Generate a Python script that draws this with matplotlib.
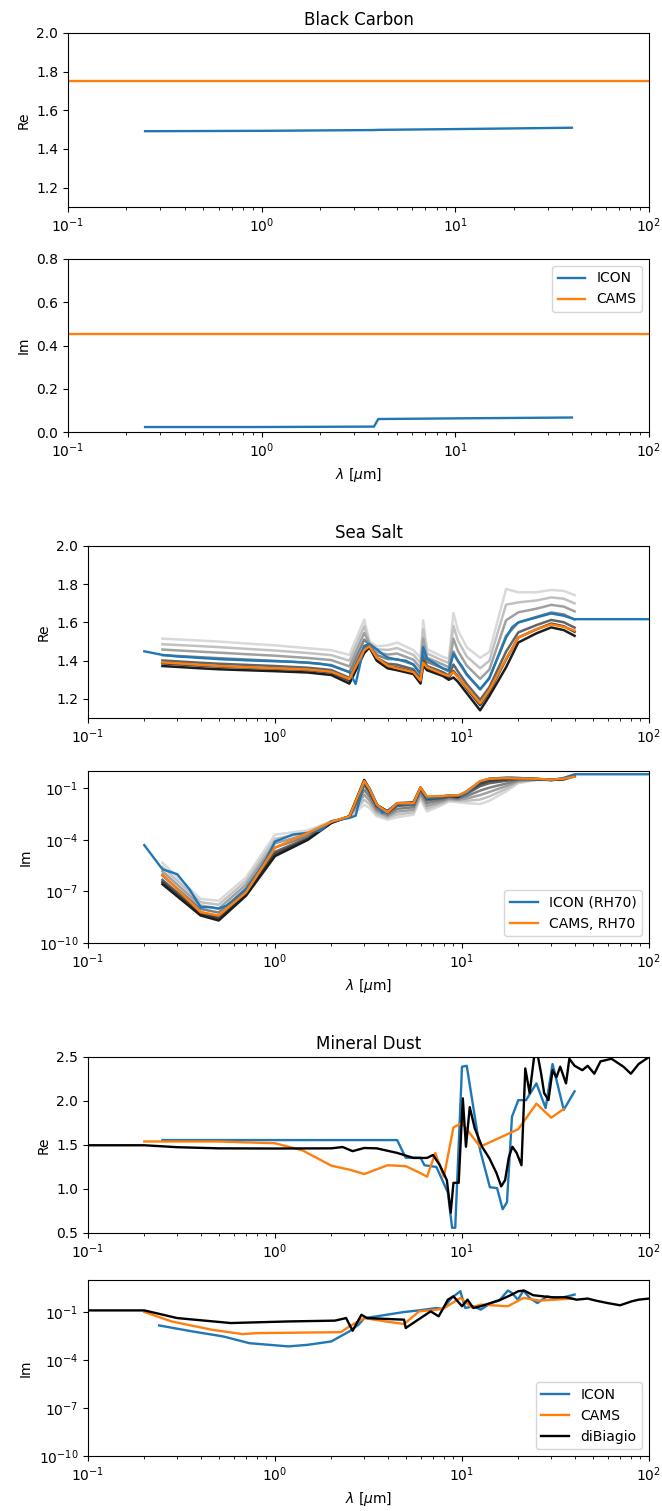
import numpy as np
import matplotlib
matplotlib.use("Agg")
import matplotlib.pyplot as plt

plt.rcParams['lines.linewidth'] = 1.7

# ---------------- black carbon
bc_icon_wl = [0.25, 1.0, 3.8, 4.0, 10.0, 40.0]
bc_icon_re = [1.492, 1.494, 1.498, 1.499, 1.503, 1.510]
bc_icon_im = [0.023, 0.023, 0.025, 0.060, 0.063, 0.067]
bc_cams_wl = [0.1, 100.0]
bc_cams_re = [1.75, 1.75]
bc_cams_im = [0.455, 0.455]

# ---------------- sea salt
# CAMS grid, gray lines = different RH (light = dry, dark = wet)
ss_wl = [0.25, 0.4, 0.5, 0.7, 1.0, 1.5, 2.0, 2.5, 3.0, 3.2, 3.5, 4.0, 4.5, 5.5, 6.0,
         6.2, 6.5, 7.9, 8.5, 9.0, 9.5, 10.6, 12.5, 14.0, 17.2, 20.0, 25.0, 30.0, 35.0, 40.0]
ss_rh_re = [
    [1.515, 1.505, 1.500, 1.490, 1.480, 1.465, 1.455, 1.430, 1.615, 1.500, 1.475, 1.480, 1.495, 1.455, 1.415,
     1.610, 1.460, 1.420, 1.410, 1.650, 1.560, 1.470, 1.415, 1.445, 1.775, 1.758, 1.758, 1.770, 1.765, 1.743],
    [1.486, 1.476, 1.471, 1.462, 1.453, 1.440, 1.429, 1.400, 1.580, 1.494, 1.460, 1.456, 1.466, 1.430, 1.388,
     1.563, 1.438, 1.400, 1.388, 1.582, 1.506, 1.422, 1.360, 1.399, 1.693, 1.705, 1.715, 1.731, 1.724, 1.700],
    [1.458, 1.447, 1.442, 1.434, 1.426, 1.414, 1.403, 1.370, 1.545, 1.488, 1.445, 1.432, 1.437, 1.405, 1.361,
     1.516, 1.416, 1.380, 1.366, 1.515, 1.452, 1.374, 1.305, 1.353, 1.611, 1.653, 1.672, 1.692, 1.683, 1.658],
    [1.429, 1.418, 1.413, 1.406, 1.399, 1.389, 1.377, 1.340, 1.510, 1.482, 1.430, 1.408, 1.408, 1.380, 1.334,
     1.469, 1.394, 1.360, 1.344, 1.447, 1.398, 1.326, 1.250, 1.307, 1.529, 1.600, 1.629, 1.652, 1.642, 1.615],
    [1.401, 1.389, 1.384, 1.378, 1.372, 1.363, 1.351, 1.310, 1.475, 1.476, 1.415, 1.384, 1.379, 1.355, 1.307,
     1.422, 1.372, 1.340, 1.322, 1.380, 1.344, 1.278, 1.195, 1.261, 1.447, 1.548, 1.586, 1.613, 1.601, 1.573],
    [1.386, 1.374, 1.369, 1.364, 1.358, 1.351, 1.338, 1.295, 1.457, 1.473, 1.407, 1.372, 1.364, 1.342, 1.293,
     1.398, 1.361, 1.330, 1.311, 1.346, 1.317, 1.254, 1.167, 1.238, 1.406, 1.521, 1.564, 1.594, 1.580, 1.551],
    [1.372, 1.360, 1.355, 1.350, 1.345, 1.338, 1.325, 1.280, 1.440, 1.470, 1.400, 1.360, 1.350, 1.330, 1.280,
     1.375, 1.350, 1.320, 1.300, 1.312, 1.290, 1.230, 1.140, 1.215, 1.365, 1.495, 1.543, 1.574, 1.560, 1.530],
]
# imaginary part, log10
ss_rh_im_log = [
    [-5.33, -7.44, -7.54, -6.19, -3.70, -3.45, -2.92, -2.69, -1.96, -2.15, -2.63, -2.83, -2.69, -2.54, -1.58,
     -1.96, -2.35, -1.96, -1.77, -1.79, -1.81, -1.87, -1.92, -1.73, -1.19, -0.71, -0.52, -0.52, -0.50, -0.33],
    [-5.58, -7.63, -7.77, -6.40, -3.95, -3.56, -2.94, -2.68, -1.67, -1.93, -2.50, -2.73, -2.53, -2.40, -1.46,
     -1.81, -2.19, -1.86, -1.70, -1.72, -1.74, -1.73, -1.66, -1.48, -1.04, -0.65, -0.51, -0.52, -0.49, -0.32],
    [-5.83, -7.82, -8.00, -6.61, -4.20, -3.67, -2.96, -2.67, -1.38, -1.71, -2.36, -2.64, -2.36, -2.26, -1.33,
     -1.65, -2.03, -1.77, -1.63, -1.65, -1.68, -1.60, -1.40, -1.22, -0.88, -0.59, -0.50, -0.52, -0.48, -0.31],
    [-6.08, -8.02, -8.23, -6.83, -4.45, -3.78, -2.98, -2.65, -1.10, -1.48, -2.23, -2.54, -2.20, -2.11, -1.21,
     -1.50, -1.86, -1.67, -1.56, -1.59, -1.61, -1.46, -1.14, -0.97, -0.73, -0.54, -0.48, -0.52, -0.48, -0.29],
    [-6.33, -8.21, -8.46, -7.04, -4.70, -3.89, -3.00, -2.64, -0.81, -1.26, -2.09, -2.45, -2.03, -1.97, -1.08,
     -1.34, -1.70, -1.58, -1.49, -1.52, -1.55, -1.33, -0.88, -0.71, -0.57, -0.48, -0.47, -0.52, -0.47, -0.28],
    [-6.46, -8.30, -8.58, -7.14, -4.83, -3.95, -3.01, -2.64, -0.66, -1.15, -2.03, -2.40, -1.95, -1.90, -1.02,
     -1.27, -1.62, -1.53, -1.45, -1.48, -1.51, -1.26, -0.75, -0.59, -0.50, -0.45, -0.47, -0.52, -0.46, -0.28],
    [-6.58, -8.40, -8.69, -7.25, -4.95, -4.00, -3.02, -2.63, -0.52, -1.04, -1.96, -2.35, -1.87, -1.83, -0.96,
     -1.19, -1.54, -1.48, -1.42, -1.45, -1.48, -1.19, -0.62, -0.46, -0.42, -0.42, -0.46, -0.52, -0.46, -0.27],
]
ss_cams_re = [1.391, 1.378, 1.372, 1.366, 1.360, 1.354, 1.342, 1.304, 1.455, 1.475, 1.415, 1.374, 1.360, 1.340, 1.296,
              1.390, 1.365, 1.330, 1.320, 1.340, 1.313, 1.260, 1.177, 1.245, 1.410, 1.520, 1.565, 1.590, 1.577, 1.557]
ss_cams_im_log = [-6.00, -8.21, -8.40, -7.06, -4.46, -3.60, -2.96, -2.63, -0.58, -1.05, -1.96, -2.40, -1.87, -1.87, -0.96,
                  -1.20, -1.48, -1.45, -1.42, -1.42, -1.42, -1.19, -0.58, -0.45, -0.42, -0.44, -0.45, -0.50, -0.45, -0.33]

ss_icon_wl = [0.2, 0.25, 0.3, 0.35, 0.4, 0.45, 0.5, 0.55, 0.6, 0.7, 0.8, 0.9, 1.0, 1.25, 1.5, 1.75, 2.0, 2.5, 2.7,
              3.0, 3.2, 3.5, 3.75, 4.0, 4.5, 5.0, 5.5, 6.0, 6.2, 6.5, 7.9, 8.5, 9.0, 9.5, 10.0, 10.6, 12.5, 14.0,
              17.2, 18.5, 20.0, 25.0, 30.0, 35.0, 40.0, 100.0]
ss_icon_re = [1.449, 1.430, 1.422, 1.418, 1.414, 1.411, 1.408, 1.406, 1.405, 1.402, 1.400, 1.398, 1.397, 1.394, 1.390,
              1.384, 1.374, 1.340, 1.278, 1.478, 1.487, 1.460, 1.435, 1.417, 1.405, 1.400, 1.380, 1.330, 1.470, 1.410,
              1.360, 1.350, 1.435, 1.400, 1.370, 1.330, 1.250, 1.310, 1.520, 1.574, 1.600, 1.626, 1.647, 1.635, 1.617, 1.617]
ss_icon_im_log = [-4.31, -5.71, -6.00, -6.90, -7.92, -7.92, -8.00, -7.83, -7.54, -6.87, -6.00, -5.10, -4.10, -3.69, -3.60,
                  -3.45, -2.92, -2.73, -2.60, -0.62, -1.00, -1.90, -2.44, -2.30, -1.92, -1.92, -1.92, -0.96, -1.20, -1.58,
                  -1.50, -1.42, -1.42, -1.42, -1.42, -1.29, -0.62, -0.45, -0.38, -0.38, -0.40, -0.46, -0.52, -0.40, -0.19, -0.19]

# ---------------- mineral dust
md_icon_re_wl = [0.25, 4.5, 5.0, 6.0, 6.3, 7.3, 8.4, 8.85, 9.2, 10.0, 10.6, 12.5, 14.1, 15.4, 16.5, 17.4, 18.5,
                 20.0, 22.0, 25.0, 28.0, 30.5, 35.0, 40.0]
md_icon_re = [1.556, 1.556, 1.355, 1.355, 1.27, 1.25, 0.96, 0.56, 0.56, 2.39, 2.40, 1.44, 1.02, 1.01, 0.77, 0.85, 1.82,
              2.01, 2.01, 2.20, 1.92, 2.42, 1.90, 2.11]
md_cams_re_wl = [0.2, 0.5, 0.7, 1.0, 1.4, 2.0, 2.5, 3.0, 4.0, 5.0, 6.0, 6.5, 7.2, 8.0, 9.0, 10.0, 12.5, 20.0, 25.0, 30.0, 35.0]
md_cams_re = [1.54, 1.54, 1.53, 1.52, 1.44, 1.265, 1.22, 1.17, 1.27, 1.26, 1.18, 1.14, 1.41, 1.14, 1.70, 1.75, 1.48,
              1.68, 1.97, 1.81, 1.91]
md_dibiagio_re_wl = [0.1, 0.2, 0.3, 0.5, 1.0, 2.0, 2.3, 2.6, 3.0, 3.5, 4.5, 5.5, 6.5, 7.0, 7.6, 8.3, 8.7, 9.0, 9.6,
                     10.1, 10.5, 11.0, 11.7, 12.8, 14.0, 15.3, 16.2, 17.0, 17.8, 18.6, 19.6, 20.8, 21.8, 23.0, 24.3,
                     25.0, 26.5, 27.5, 29.0, 30.5, 32.0, 33.5, 36.0, 37.5, 40.0, 44.0, 47.0, 51.0, 55.0, 63.0, 73.0,
                     80.0, 88.0, 100.0]
md_dibiagio_re = [1.497, 1.497, 1.475, 1.462, 1.460, 1.462, 1.477, 1.43, 1.466, 1.462, 1.41, 1.353, 1.353, 1.387, 1.273,
                  1.10, 0.73, 1.07, 1.07, 2.03, 1.48, 1.93, 1.69, 1.48, 1.35, 1.18, 1.03, 1.10, 1.36, 1.48, 1.41, 1.27,
                  2.37, 2.09, 2.50, 2.60, 2.31, 2.09, 2.01, 2.35, 2.27, 2.39, 2.20, 2.48, 2.40, 2.35, 2.40, 2.31, 2.45,
                  2.48, 2.39, 2.31, 2.42, 2.50]

md_icon_im_wl = [0.24, 0.36, 0.53, 0.73, 1.18, 1.5, 2.0, 2.5, 2.8, 3.0, 3.5, 4.9, 5.9, 7.3, 7.9, 8.8, 9.8, 10.4, 11.5,
                 12.6, 14.3, 15.8, 17.6, 18.5, 19.9, 21.3, 23.0, 25.3, 28.5, 32.7, 40.0]
md_icon_im_log = [-1.84, -2.21, -2.53, -2.95, -3.15, -3.05, -2.84, -2.21, -1.79, -1.38, -1.27, -1.00, -0.90, -0.75,
                  -0.81, -0.12, 0.30, -0.75, -0.64, -0.85, -0.44, -0.29, 0.34, 0.19, -0.23, 0.34, -0.12, -0.44, -0.02,
                  -0.16, 0.09]
md_cams_im_wl = [0.2, 0.28, 0.46, 0.67, 0.8, 2.25, 2.5, 3.0, 3.9, 4.9, 5.9, 7.9, 9.8, 11.3, 12.6, 17.6, 21.3, 26.0, 39.0]
md_cams_im_log = [-1.00, -1.59, -2.11, -2.38, -2.32, -2.26, -1.90, -1.38, -1.59, -1.75, -0.96, -0.81, -0.12, -0.71,
                  -0.54, -0.64, -0.12, -0.29, -0.16]
md_dibiagio_im_wl = [0.1, 0.2, 0.3, 0.58, 1.18, 2.09, 2.4, 2.6, 2.9, 3.1, 4.9, 5.0, 6.2, 6.8, 7.5, 7.9, 8.4, 9.0, 10.0,
                     10.7, 11.5, 12.6, 16.1, 18.5, 20.0, 21.5, 24.0, 30.0, 36.0, 41.0, 47.0, 52.0, 60.0, 70.0, 81.0,
                     88.0, 100.0]
md_dibiagio_im_log = [-0.90, -0.90, -1.38, -1.69, -1.59, -1.54, -1.38, -2.17, -1.17, -1.38, -1.48, -2.00, -1.27, -0.96,
                      -1.27, -0.81, -0.23, -0.02, -0.64, -0.23, -0.75, -0.64, -0.23, 0.09, 0.30, 0.34, 0.05, -0.08,
                      -0.08, -0.23, -0.16, -0.29, -0.44, -0.58, -0.33, -0.23, -0.16]

W, H = 662, 1511
fig = plt.figure(figsize=(W / 100, H / 100), dpi=100)


def panel(l, t, r, b):
    return fig.add_axes([l / W, 1 - b / H, (r - l) / W, (b - t) / H])


lab = r'$\lambda$ [$\mu$m]'

# black carbon
ax = panel(68, 33, 649, 207)
ax.plot(bc_icon_wl, bc_icon_re, label='ICON')
ax.plot(bc_cams_wl, bc_cams_re, label='CAMS')
ax.set_xscale('log')
ax.set_xlim(0.1, 100)
ax.set_ylim(1.1, 2.0)
ax.set_ylabel('Re')
ax.set_title('Black Carbon')

ax = panel(68, 259, 649, 432)
ax.plot(bc_icon_wl, bc_icon_im, label='ICON')
ax.plot(bc_cams_wl, bc_cams_im, label='CAMS')
ax.set_xscale('log')
ax.set_xlim(0.1, 100)
ax.set_ylim(0, 0.8)
ax.set_ylabel('Im')
ax.set_xlabel(lab)
ax.legend(loc='upper right')

# sea salt
greys = plt.cm.Greys(np.linspace(0.25, 0.9, len(ss_rh_re)))
ax = panel(88, 546, 649, 718)
for row, c in zip(ss_rh_re, greys):
    ax.plot(ss_wl, row, color=c, lw=1.8)
ax.plot(ss_icon_wl, ss_icon_re, color='C0')
ax.plot(ss_wl, ss_cams_re, color='C1')
ax.set_xscale('log')
ax.set_xlim(0.1, 100)
ax.set_ylim(1.1, 2.0)
ax.set_ylabel('Re')
ax.set_title('Sea Salt')

ax = panel(88, 771, 649, 943)
for row, c in zip(ss_rh_im_log, greys):
    ax.plot(ss_wl, np.power(10.0, row), color=c, lw=1.8)
ax.plot(ss_icon_wl, np.power(10.0, ss_icon_im_log), color='C0', label='ICON (RH70)')
ax.plot(ss_wl, np.power(10.0, ss_cams_im_log), color='C1', label='CAMS, RH70')
ax.set_xscale('log')
ax.set_yscale('log')
ax.set_xlim(0.1, 100)
ax.set_ylim(1e-10, 1)
ax.set_yticks([1e-10, 1e-7, 1e-4, 1e-1])
ax.set_ylabel('Im')
ax.set_xlabel(lab)
ax.legend(loc='lower right')

# mineral dust
ax = panel(88, 1057, 649, 1233)
ax.plot(md_icon_re_wl, md_icon_re, color='C0')
ax.plot(md_cams_re_wl, md_cams_re, color='C1')
ax.plot(md_dibiagio_re_wl, md_dibiagio_re, color='k')
ax.set_xscale('log')
ax.set_xlim(0.1, 100)
ax.set_ylim(0.5, 2.5)
ax.set_ylabel('Re')
ax.set_title('Mineral Dust')

ax = panel(88, 1280, 649, 1456)
ax.plot(md_icon_im_wl, np.power(10.0, md_icon_im_log), color='C0', label='ICON')
ax.plot(md_cams_im_wl, np.power(10.0, md_cams_im_log), color='C1', label='CAMS')
ax.plot(md_dibiagio_im_wl, np.power(10.0, md_dibiagio_im_log), color='k', label='diBiagio')
ax.set_xscale('log')
ax.set_yscale('log')
ax.set_xlim(0.1, 100)
ax.set_ylim(1e-10, 10)
ax.set_yticks([1e-10, 1e-7, 1e-4, 1e-1])
ax.set_ylabel('Im')
ax.set_xlabel(lab)
ax.legend(loc='lower right')

fig.savefig('out.png', dpi=100)
